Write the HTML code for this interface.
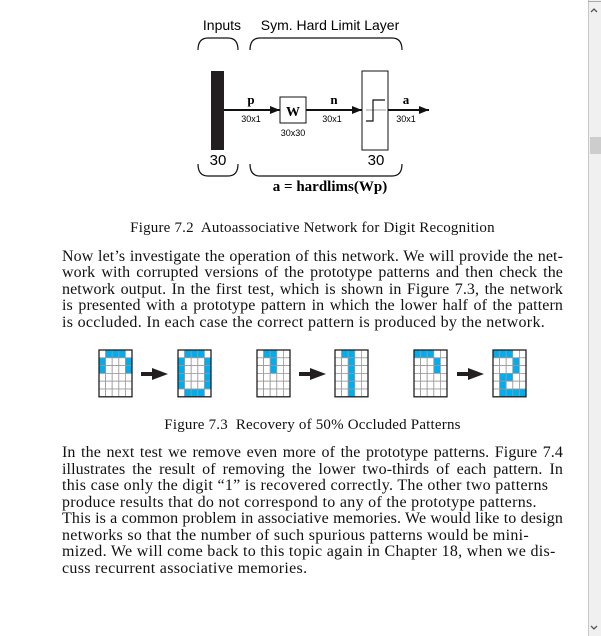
<!DOCTYPE html>
<html><head><meta charset="utf-8"><style>
body{margin:0;width:601px;height:636px;background:#fff;position:relative;overflow:hidden;font-family:"Liberation Serif",serif;color:#111}
.l{position:absolute;left:62px;font-size:16px;letter-spacing:0.3px;white-space:nowrap;line-height:17px}
.j{width:501px;text-align:justify;text-align-last:justify;letter-spacing:0.1px}
.cap{position:absolute;width:601px;left:12px;text-align:center;font-size:15px;letter-spacing:0.2px;white-space:nowrap}
</style></head><body>
<svg width="601" height="636" style="position:absolute;left:0;top:0" font-family="Liberation Sans, sans-serif">
<defs><marker id="ah" markerWidth="10" markerHeight="8" refX="10" refY="4" orient="auto" markerUnits="userSpaceOnUse"><path d="M0,0 L10,4 L0,8z" fill="#111"/></marker></defs>
<text x="222" y="30" font-size="14" text-anchor="middle">Inputs</text>
<text x="330" y="30" font-size="14" text-anchor="middle">Sym. Hard Limit Layer</text>
<g fill="none" stroke="#111" stroke-width="1.2">
<path d="M198,50 Q198,38 208,38 L228,38 Q238,38 238,50"/>
<path d="M250,50 Q250,38 260,38 L392,38 Q402,38 402,50"/>
<path d="M198,164 Q198,176 208,176 L228,176 Q238,176 238,164"/>
<path d="M250,164 Q250,176 260,176 L392,176 Q402,176 402,164"/>
</g>
<rect x="211" y="71" width="13" height="79" fill="#231f20"/>
<g stroke="#111" stroke-width="2">
<line x1="224" y1="110" x2="280" y2="110" marker-end="url(#ah)"/>
<line x1="306" y1="110" x2="362" y2="110" marker-end="url(#ah)"/>
<line x1="388" y1="110" x2="429" y2="110" marker-end="url(#ah)"/>
</g>
<rect x="280" y="97" width="26" height="26" fill="#fff" stroke="#111"/>
<text x="293" y="116" font-size="14" font-weight="bold" text-anchor="middle" font-family="Liberation Serif, serif">W</text>
<rect x="362" y="71" width="26" height="79" fill="#fff" stroke="#111"/>
<line x1="366" y1="110" x2="386" y2="110" stroke="#999" stroke-width="1"/>
<path d="M366,121 L373,121 L373,100 L385,100" fill="none" stroke="#111" stroke-width="1.2"/>
<g font-family="Liberation Serif, serif" font-weight="bold" font-size="13" text-anchor="middle">
<text x="251" y="104">p</text><text x="334" y="104">n</text><text x="406" y="104">a</text>
</g>
<g font-size="9" text-anchor="middle">
<text x="251" y="122">30x1</text><text x="332" y="122">30x1</text><text x="406" y="122">30x1</text><text x="293" y="136">30x30</text>
</g>
<text x="218" y="165" font-size="15" text-anchor="middle">30</text>
<text x="376" y="165" font-size="15" text-anchor="middle">30</text>
<text x="330" y="191" font-size="15" font-weight="bold" text-anchor="middle" font-family="Liberation Serif, serif">a = hardlims(Wp)</text>
<g id="grids"></g>
<g fill="#231f20">
<path d="M141,372 L152,372 L152,368 L168,374 L152,380 L152,376 L141,376z"/>
<path d="M299,372 L310,372 L310,368 L326,374 L310,380 L310,376 L299,376z"/>
<path d="M457,372 L468,372 L468,368 L484,374 L468,380 L468,376 L457,376z"/>
</g>
<rect x="588" y="0" width="13" height="636" fill="#f0f0f0"/>
<line x1="588.5" y1="0" x2="588.5" y2="636" stroke="#c8c8c8"/>
<line x1="588" y1="1.5" x2="601" y2="1.5" stroke="#aaa"/>
<rect x="590" y="137" width="11" height="17" fill="#cdcdcd"/>
<path d="M591,12 L594,9 L597,12" fill="none" stroke="#555" stroke-width="1.3"/>
<path d="M591,626 L594,629 L597,626" fill="none" stroke="#555" stroke-width="1.3"/>
</svg>
<script>
var pats=[
[[0,1,1,1,0],[1,0,0,0,1],[1,0,0,0,1],[0,0,0,0,0],[0,0,0,0,0],[0,0,0,0,0]],
[[0,1,1,1,0],[1,0,0,0,1],[1,0,0,0,1],[1,0,0,0,1],[1,0,0,0,1],[0,1,1,1,0]],
[[0,1,1,0,0],[0,0,1,0,0],[0,0,1,0,0],[0,0,0,0,0],[0,0,0,0,0],[0,0,0,0,0]],
[[0,1,1,0,0],[0,0,1,0,0],[0,0,1,0,0],[0,0,1,0,0],[0,0,1,0,0],[0,0,1,0,0]],
[[1,1,1,0,0],[0,0,0,1,0],[0,0,0,1,0],[0,0,0,0,0],[0,0,0,0,0],[0,0,0,0,0]],
[[1,1,1,0,0],[0,0,0,1,0],[0,0,0,1,0],[0,1,1,0,0],[0,1,0,0,0],[0,1,1,1,1]]];
var xs=[99,178,257,335,414,493],s='',cw=6.6,ch=7.8,y0=350;
for(var g=0;g<6;g++){var x0=xs[g];
for(var r=0;r<6;r++)for(var c=0;c<5;c++){
s+='<rect x="'+(x0+c*cw)+'" y="'+(y0+r*ch)+'" width="'+cw+'" height="'+ch+'" fill="'+(pats[g][r][c]?'#00aeef':'#fff')+'" stroke="#999" stroke-width="0.8"/>';}
s+='<rect x="'+x0+'" y="'+y0+'" width="'+(5*cw)+'" height="'+(6*ch)+'" fill="none" stroke="#231f20" stroke-width="1.3"/>';}
document.getElementById('grids').innerHTML=s;
</script>
<div class="cap" style="top:220px">Figure 7.2&nbsp; Autoassociative Network for Digit Recognition</div>
<div class="l j" style="top:248px">Now let’s investigate the operation of this network. We will provide the net-</div>
<div class="l j" style="top:264px">work with corrupted versions of the prototype patterns and then check the</div>
<div class="l j" style="top:281px">network output. In the first test, which is shown in Figure 7.3, the network</div>
<div class="l j" style="top:297px">is presented with a prototype pattern in which the lower half of the pattern</div>
<div class="l" style="top:314px">is occluded. In each case the correct pattern is produced by the network.</div>
<div class="cap" style="top:417px">Figure 7.3&nbsp; Recovery of 50% Occluded Patterns</div>
<div class="l j" style="top:444px">In the next test we remove even more of the prototype patterns. Figure 7.4</div>
<div class="l j" style="top:461px">illustrates the result of removing the lower two-thirds of each pattern. In</div>
<div class="l" style="top:477px">this case only the digit “1” is recovered correctly. The other two patterns</div>
<div class="l" style="top:494px">produce results that do not correspond to any of the prototype patterns.</div>
<div class="l j" style="top:510px">This is a common problem in associative memories. We would like to design</div>
<div class="l" style="top:527px">networks so that the number of such spurious patterns would be mini-</div>
<div class="l" style="top:543px">mized. We will come back to this topic again in Chapter 18, when we dis-</div>
<div class="l" style="top:560px">cuss recurrent associative memories.</div>
</body></html>
